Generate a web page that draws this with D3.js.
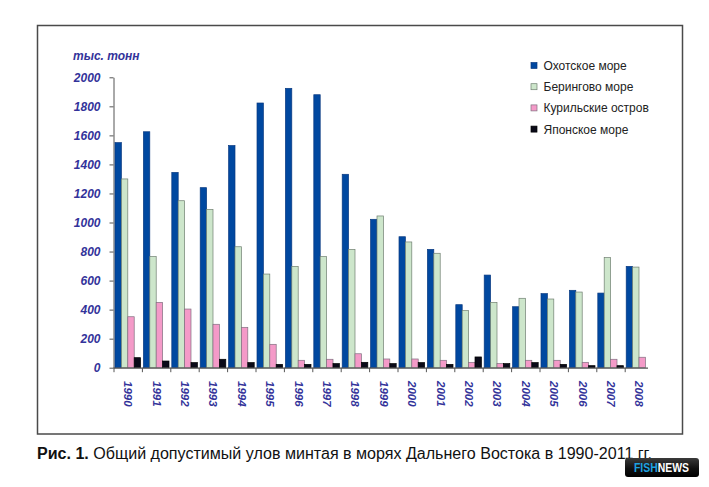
<!DOCTYPE html>
<html>
<head>
<meta charset="utf-8">
<script src="https://cdn.jsdelivr.net/npm/d3@7"></script>
<style>
  body { margin: 0; background: #fff; }
  svg { display: block; }
</style>
</head>
<body>
<svg id="chart" width="709" height="487"></svg>
<script>
// years on the x axis
var years = ["1990","1991","1992","1993","1994","1995","1996","1997","1998","1999",
             "2000","2001","2002","2003","2004","2005","2006","2007","2008"];

// series values, thousand tonnes
var okhotsk = [1550,1625,1345,1240,1530,1823,1924,1880,1332,1022,902,815,434,638,420,510,533,514,698];
var bering  = [1300,765,1150,1090,833,645,698,765,815,1045,866,788,393,450,478,473,521,758,693];
var kuril   = [351,450,404,299,278,161,51,58,96,60,60,51,37,28,51,51,37,58,72];
var japan   = [69,46,35,58,35,23,23,28,37,28,35,23,74,28,35,23,14,14,0];

var seriesNames = ["Охотское море","Берингово море","Курильские остров","Японское море"];
var seriesValues = [okhotsk, bering, kuril, japan];
var yTicks = [0,200,400,600,800,1000,1200,1400,1600,1800,2000];

var colors = ["#0048a0","#cde6cb","#f49ac8","#0a0a18"];
var strokes = ["#0a3a80","#6f7f70","#807080","#000000"];
var labelColor = "#33339a";

var svg = d3.select("#chart");

// frame around the chart
svg.append("rect")
    .attr("x", 37.5).attr("y", 25.5)
    .attr("width", 645).attr("height", 408.5)
    .attr("fill", "none")
    .attr("stroke", "#4a4a4a")
    .attr("stroke-width", 1.5);

var x0 = d3.scaleBand().domain(years).range([114, 653.6]).padding(0);
var x1 = d3.scaleBand().domain(d3.range(4)).range([1, 26.6]).padding(0);
var y = d3.scaleLinear().domain([0, 2000]).range([367.7, 77.3]);

// y axis
var yAxis = d3.axisLeft(y).tickValues(yTicks).tickSize(4).tickSizeOuter(0).tickFormat(d3.format("d"));
var gy = svg.append("g").attr("transform", "translate(113.5,0)").call(yAxis);
gy.select(".domain").attr("stroke", "#555");
gy.selectAll(".tick line").attr("stroke", "#555");
gy.selectAll(".tick text")
    .attr("x", -13)
    .attr("fill", labelColor)
    .style("font-family", "Arial, 'Liberation Sans', sans-serif")
    .style("font-size", "12px")
    .style("font-weight", "bold")
    .style("font-style", "italic");

svg.append("text")
    .attr("x", 73).attr("y", 60)
    .attr("fill", labelColor)
    .style("font-family", "Arial, 'Liberation Sans', sans-serif")
    .style("font-size", "12px")
    .style("font-weight", "bold")
    .style("font-style", "italic")
    .text("тыс. тонн");

// bars
var groups = svg.append("g").selectAll("g")
    .data(years)
    .join("g")
    .attr("transform", d => "translate(" + x0(d) + ",0)");

groups.selectAll("rect")
    .data((d, i) => seriesValues.map((s, k) => ({k: k, v: s[i]})))
    .join("rect")
    .filter(d => d.v > 0)
    .attr("x", d => x1(d.k))
    .attr("y", d => y(d.v))
    .attr("width", x1.bandwidth())
    .attr("height", d => y(0) - y(d.v))
    .attr("fill", d => colors[d.k])
    .attr("stroke", d => strokes[d.k])
    .attr("stroke-width", 0.7);

// x axis: line, ticks between groups, rotated year labels
svg.append("line")
    .attr("x1", 113.5).attr("x2", 648)
    .attr("y1", y(0) + 0.5).attr("y2", y(0) + 0.5)
    .attr("stroke", "#555").attr("stroke-width", 1.2);

svg.append("g").selectAll("line")
    .data(years)
    .join("line")
    .attr("x1", d => x0(d)).attr("x2", d => x0(d))
    .attr("y1", y(0)).attr("y2", y(0) + 4.5)
    .attr("stroke", "#555");

svg.append("g").selectAll("text")
    .data(years)
    .join("text")
    .attr("transform", d => "translate(" + (x0(d) + x0.bandwidth() / 2 - 4) + ",381) rotate(90)")
    .attr("fill", labelColor)
    .style("font-family", "Arial, 'Liberation Sans', sans-serif")
    .style("font-size", "11.5px")
    .style("font-weight", "bold")
    .style("font-style", "italic")
    .text(d => d);

// legend
var legend = svg.append("g").selectAll("g")
    .data(seriesNames)
    .join("g")
    .attr("transform", (d, i) => "translate(531," + (66 + i * 21.2) + ")");

legend.append("rect")
    .attr("x", 0).attr("y", -3.5)
    .attr("width", 6).attr("height", 6)
    .attr("fill", (d, i) => colors[i])
    .attr("stroke", (d, i) => strokes[i])
    .attr("stroke-width", 0.7);

legend.append("text")
    .attr("x", 12.5).attr("y", 4)
    .attr("fill", "#222")
    .style("font-family", "Arial, 'Liberation Sans', sans-serif")
    .style("font-size", "12px")
    .text(d => d);

// caption
var cap = svg.append("text")
    .attr("x", 37).attr("y", 458.5)
    .attr("fill", "#111")
    .style("font-family", "Arial, 'Liberation Sans', sans-serif")
    .style("font-size", "16px")
    .attr("textLength", 615)
    .attr("lengthAdjust", "spacingAndGlyphs");
cap.append("tspan").style("font-weight", "bold").text("Рис. 1.");
cap.append("tspan").text(" Общий допустимый улов минтая в морях Дальнего Востока в 1990-2011 гг.");

// FISHNEWS badge
var grad = svg.append("defs").append("linearGradient")
    .attr("id", "badge-grad").attr("x1", 0).attr("y1", 0).attr("x2", 0).attr("y2", 1);
grad.append("stop").attr("offset", "0%").attr("stop-color", "#3a3a3a");
grad.append("stop").attr("offset", "55%").attr("stop-color", "#111");
grad.append("stop").attr("offset", "100%").attr("stop-color", "#000");

var badge = svg.append("g").attr("transform", "translate(625,458)");
badge.append("rect")
    .attr("width", 74).attr("height", 19)
    .attr("rx", 3)
    .attr("fill", "url(#badge-grad)");
var bt = badge.append("text")
    .attr("x", 9).attr("y", 14)
    .style("font-family", "Arial, 'Liberation Sans', sans-serif")
    .style("font-size", "12px")
    .style("font-weight", "bold")
    .attr("textLength", 55)
    .attr("lengthAdjust", "spacingAndGlyphs");
bt.append("tspan").attr("fill", "#1da1e2").text("FISH");
bt.append("tspan").attr("fill", "#fff").text("NEWS");
</script>
</body>
</html>
